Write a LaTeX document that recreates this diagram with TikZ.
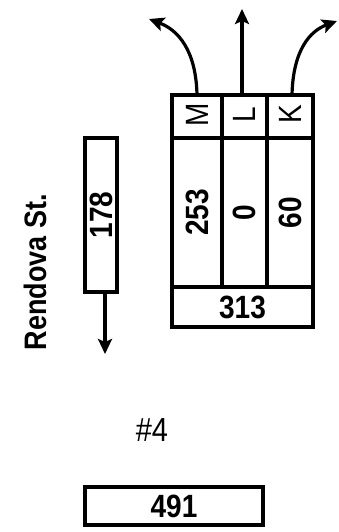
\documentclass[tikz,border=0pt]{standalone}
\usepackage{fontspec}
\setmainfont{Liberation Sans}
\usetikzlibrary{arrows.meta}
\newcommand{\tallt}[1]{\scalebox{1}[1.15]{#1}}
\tikzset{
  cell/.style={draw, line width=3.8pt, inner sep=0pt, outer sep=0pt, rectangle},
  num/.style={font=\bfseries\fontsize{28}{28}\selectfont},
  hdr/.style={font=\fontsize{28}{28}\selectfont},
  flow/.style={line width=3.2pt, -{Stealth[length=15pt,width=14pt,inset=3pt]}},
}
\begin{document}
\begin{tikzpicture}[x=1pt,y=-1pt]
\useasboundingbox (0,0) rectangle (339,532);
% header cells
\node[cell, minimum width=50pt, minimum height=43pt] (hM) at (197,116.5) {};
\node[cell, minimum width=45pt, minimum height=43pt] (hL) at (244.5,116.5) {};
\node[cell, minimum width=46pt, minimum height=43pt] (hK) at (290,116.5) {};
% middle cells
\node[cell, minimum width=50pt, minimum height=149pt] (cM) at (197,212.5) {};
\node[cell, minimum width=45pt, minimum height=149pt] (cL) at (244.5,212.5) {};
\node[cell, minimum width=46pt, minimum height=149pt] (cK) at (290,212.5) {};
% total row
\node[cell, minimum width=141pt, minimum height=40pt, num] (tot) at (242.5,307) {\tallt{313}};
% header letters
\node[hdr, rotate=90] at ([yshift=2pt]hM.center) {\tallt{M}};
\node[hdr, rotate=90] at ([yshift=2pt]hL.center) {\tallt{L}};
\node[hdr, rotate=90] at ([yshift=2pt]hK.center) {\tallt{K}};
% numbers
\node[num, rotate=90] at (cM.center) {\tallt{253}};
\node[num, rotate=90] at (cL.center) {\tallt{0}};
\node[num, rotate=90] at (cK.center) {\tallt{60}};
% left box
\node[cell, minimum width=32pt, minimum height=154pt] (lb) at (101,215) {};
\node[num, rotate=90] at (lb.center) {\tallt{178}};
% street label
\node[font=\bfseries\fontsize{27}{27}\selectfont, rotate=90] (street) at (35,272) {\tallt{Rendova St.}};
% bottom
\node[font=\fontsize{29}{29}\selectfont] (id) at (152,430) {\tallt{\#4}};
\node[cell, minimum width=178pt, minimum height=38pt, num] (sum) at (174,506) {\tallt{491}};
% arrow endpoints
\coordinate (tM) at (149,19);
\coordinate (tL) at (242,9);
\coordinate (tK) at (337,21);
\coordinate (tD) at (105,354);
\coordinate (sL) at (242,95);
\coordinate (sK) at (292,95);
\coordinate (sD) at (105,292);
% arrows
\draw[flow] (hM.north) .. controls (196,50) and (178,30) .. (tM);
\draw[flow] (sL) -- (tL);
\draw[flow] (sK) .. controls (293,50) and (310,31) .. (tK);
\draw[flow] (sD) -- (tD);
\end{tikzpicture}
\end{document}
